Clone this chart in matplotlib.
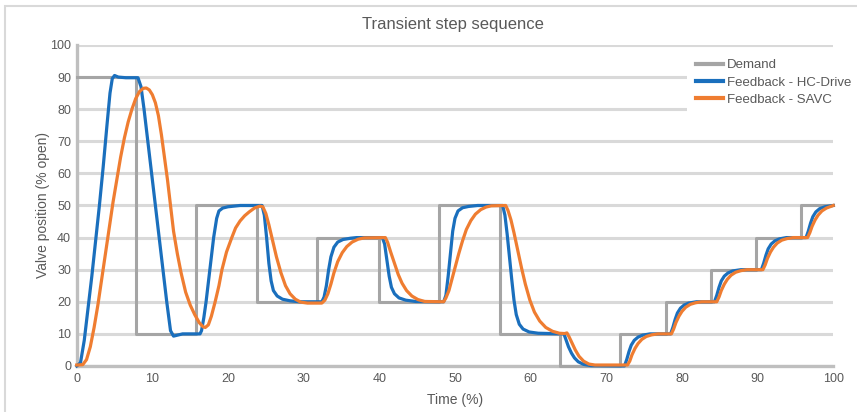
import numpy as np
import matplotlib
matplotlib.use("Agg")
import matplotlib.pyplot as plt
from matplotlib.patches import Rectangle

# ── DATA ──────────────────────────────────────────────────────────────────────
demand_t = [0, 7.8, 15.8, 23.8, 31.8, 39.9, 47.9, 55.9, 63.9, 71.8, 77.9, 83.8, 89.8, 95.8, 100]
demand_y = [90, 10, 50, 20, 40, 20, 50, 10, 0, 10, 20, 30, 40, 50, 50]

hc_drive = [
    # start-up to 90
    (0, 0), (0.5, 1), (1.0, 8), (1.5, 18), (2.0, 28), (2.5, 39), (3.0, 50), (3.5, 62),
    (4.0, 75), (4.4, 85), (4.7, 89.5), (5.0, 90.5), (5.5, 90), (6.5, 89.8), (8.1, 89.8),
    # 90 -> 10
    (8.5, 87), (8.9, 80), (9.4, 70), (9.9, 60), (10.4, 50), (10.9, 40), (11.4, 30),
    (11.9, 20), (12.4, 11), (12.8, 9.3), (13.3, 9.6), (14.0, 10), (16.3, 10),
    # 10 -> 50
    (16.5, 11), (16.8, 15), (17.1, 20), (17.6, 30), (18.1, 40), (18.5, 46), (18.8, 48.3),
    (19.3, 49.2), (20.0, 49.6), (21.6, 50), (24.5, 50),
    # 50 -> 20
    (24.8, 47), (25.1, 40), (25.4, 32), (25.7, 26.5), (26.0, 23.5), (26.5, 21.8),
    (27.2, 20.8), (28.2, 20.3), (29.5, 20), (32.4, 20),
    # 20 -> 40
    (32.7, 21.5), (33.0, 25), (33.3, 30), (33.6, 34), (34.0, 37), (34.5, 38.6),
    (35.2, 39.4), (36.2, 39.8), (37.0, 40), (40.4, 40),
    # 40 -> 20
    (40.7, 38), (41.0, 33), (41.3, 28), (41.6, 24.5), (42.0, 22.5), (42.6, 21.2),
    (43.5, 20.5), (44.8, 20.1), (48.5, 20),
    # 20 -> 50
    (48.8, 22), (49.1, 28), (49.4, 35), (49.7, 42), (50.0, 46), (50.4, 48.3), (51.0, 49.3),
    (51.8, 49.7), (53.0, 50), (56.3, 50),
    # 50 -> 10
    (56.6, 47), (56.9, 41), (57.2, 34), (57.5, 27), (57.8, 20.5), (58.1, 16), (58.5, 13),
    (59.0, 11.5), (59.8, 10.6), (61.0, 10.2), (64.4, 10),
    # 10 -> 0
    (64.7, 8), (65.0, 6), (65.4, 4), (65.8, 2.5), (66.3, 1.3), (67.0, 0.5), (68.0, 0.1),
    (72.4, 0),
    # 0 -> 10
    (72.7, 2), (73.0, 4.5), (73.3, 6.5), (73.7, 8), (74.2, 9), (74.8, 9.6), (75.8, 10),
    (78.5, 10),
    # 10 -> 20
    (78.8, 12), (79.1, 14.5), (79.4, 16.5), (79.8, 18), (80.3, 19), (80.9, 19.6),
    (81.9, 20), (84.3, 20),
    # 20 -> 30
    (84.6, 22), (84.9, 24.5), (85.2, 26.5), (85.6, 28), (86.1, 29), (86.7, 29.6),
    (87.8, 30), (90.5, 30),
    # 30 -> 40
    (90.8, 32), (91.1, 34.5), (91.4, 36.5), (91.8, 38), (92.3, 39), (92.9, 39.6),
    (93.8, 40), (96.4, 40),
    # 40 -> 50
    (96.7, 42), (97.0, 44.5), (97.3, 46.5), (97.7, 48), (98.2, 49), (98.9, 49.6),
    (100, 50),
]

savc = [
    # start-up to peak
    (0, 0.3), (0.8, 0.4), (1.3, 2), (1.8, 6), (2.3, 12), (2.8, 19), (3.3, 27), (3.8, 35),
    (4.3, 43), (4.8, 51), (5.3, 58), (5.8, 65), (6.3, 71), (6.8, 76), (7.3, 80),
    (7.8, 83.3), (8.3, 85.5), (8.8, 86.5), (9.2, 86.6), (9.6, 86), (10.0, 84.5),
    # peak -> 12
    (10.4, 82), (10.8, 78), (11.2, 72), (11.6, 65), (12.0, 58), (12.4, 50), (12.8, 42),
    (13.3, 35), (13.8, 29), (14.4, 23), (15.0, 19), (15.6, 16), (16.2, 13.5),
    (16.7, 12.2), (17.0, 12),
    # 12 -> 50
    (17.4, 12.8), (17.8, 15.5), (18.3, 20), (18.8, 25), (19.2, 30), (19.8, 35.5),
    (20.5, 40), (21.0, 43), (21.6, 45.2), (22.2, 46.8), (22.8, 48), (23.5, 49.2),
    (24.2, 49.8), (24.6, 49.6),
    # 50 -> 20
    (25.0, 47.5), (25.4, 44), (25.9, 39), (26.4, 34), (27.0, 29), (27.6, 25), (28.2, 22.5),
    (28.9, 20.8), (29.6, 19.9), (30.5, 19.6), (32.4, 19.6),
    # 20 -> 40
    (32.8, 20.5), (33.2, 22.5), (33.6, 25.5), (34.0, 29), (34.5, 32.5), (35.1, 35.3),
    (35.7, 37.2), (36.4, 38.6), (37.2, 39.5), (38.0, 39.9), (40.8, 40),
    # 40 -> 20
    (41.1, 38.5), (41.5, 35.5), (42.0, 32), (42.5, 28.5), (43.0, 25.8), (43.6, 23.5),
    (44.3, 21.8), (45.1, 20.7), (46.0, 20.1), (48.5, 20),
    # 20 -> 50
    (48.8, 21.2), (49.2, 23.5), (49.6, 27), (50.0, 30.5), (50.5, 35), (51.0, 39),
    (51.5, 42.5), (52.1, 45.3), (52.7, 47.3), (53.4, 48.7), (54.1, 49.5), (54.8, 49.9),
    (56.7, 50),
    # 50 -> 10
    (57.0, 48.5), (57.4, 45.5), (57.8, 41.5), (58.3, 36), (58.8, 30.5), (59.3, 25.5),
    (59.9, 20.5), (60.5, 16.8), (61.2, 14), (62.0, 12), (62.9, 10.8), (63.8, 10.2),
    (64.5, 10.1), (64.8, 10.3),
    # 10 -> 0
    (65.1, 9), (65.5, 7), (65.9, 5), (66.4, 3), (67.0, 1.5), (67.7, 0.6), (68.5, 0.3),
    (72.8, 0.3),
    # 0 -> 10
    (73.1, 1.5), (73.4, 3.5), (73.8, 5.5), (74.2, 7), (74.7, 8.3), (75.3, 9.2),
    (76.0, 9.7), (76.8, 10), (78.6, 10),
    # 10 -> 20
    (78.9, 11.5), (79.2, 13.5), (79.6, 15.5), (80.0, 17), (80.5, 18.3), (81.1, 19.2),
    (81.8, 19.7), (82.6, 20), (84.6, 20),
    # 20 -> 30
    (84.9, 21.5), (85.2, 23.5), (85.6, 25.5), (86.0, 27), (86.5, 28.3), (87.1, 29.2),
    (87.8, 29.7), (88.6, 30), (90.7, 30),
    # 30 -> 40
    (91.0, 31.5), (91.3, 33.5), (91.7, 35.5), (92.1, 37), (92.6, 38.3), (93.2, 39.2),
    (93.9, 39.7), (94.7, 40), (96.6, 40),
    # 40 -> 50
    (96.9, 41.5), (97.2, 43.5), (97.6, 45.5), (98.0, 47), (98.5, 48.3), (99.1, 49.2),
    (100, 50),
]

yticks = list(range(0, 101, 10))
xticks = list(range(0, 101, 10))

# ── STYLE ─────────────────────────────────────────────────────────────────────
plt.rcParams["font.family"] = ["Liberation Sans", "DejaVu Sans"]
TXT  = "#595959"
GRID = "#d9d9d9"

fig = plt.figure(figsize=(8.57, 4.12), dpi=100)
ax = fig.add_axes([0.0895, 0.1117, 0.8828, 0.7791])

hc = np.array(hc_drive)
sv = np.array(savc)

ax.plot(demand_t, demand_y, drawstyle="steps-post", color="#a5a5a5", lw=2.2,
        label="Demand", clip_on=False, zorder=3)
ax.plot(hc[:, 0], hc[:, 1], color="#1a6fbd", lw=2.3,
        label="Feedback - HC-Drive", clip_on=False, zorder=4)
ax.plot(sv[:, 0], sv[:, 1], color="#ef7d31", lw=2.3,
        label="Feedback - SAVC", clip_on=False, zorder=5)

ax.set_xlim(0, 100)
ax.set_ylim(0, 100)
ax.set_xticks(xticks)
ax.set_yticks(yticks)
ax.yaxis.grid(True, color=GRID, lw=2.2)
ax.set_axisbelow(True)
ax.tick_params(length=0, labelsize=9, colors=TXT)
ax.tick_params(axis="x", pad=5)
ax.tick_params(axis="y", pad=4)
for s in ["top", "right"]:
    ax.spines[s].set_visible(False)
for s in ["left", "bottom"]:
    ax.spines[s].set_color("#bfbfbf")
    ax.spines[s].set_linewidth(2.4)

ax.set_xlabel("Time (%)", fontsize=10, color=TXT, labelpad=6)
ax.set_ylabel("Valve position (% open)", fontsize=10, color=TXT, labelpad=0)

fig.text(453 / 857, 1 - 25 / 412, "Transient step sequence", ha="center", va="center",
         fontsize=12, color=TXT)

leg = ax.legend(loc="upper left", bbox_to_anchor=(687 / 857, 1 - 50 / 412),
                bbox_transform=fig.transFigure, frameon=True, fontsize=9.5,
                handlelength=2.0, handletextpad=0.3, labelspacing=0.38,
                borderpad=0.7, borderaxespad=0)
leg.get_frame().set_facecolor("white")
leg.get_frame().set_edgecolor("none")
leg.get_frame().set_alpha(1)
for line in leg.get_lines():
    line.set_linewidth(3)
for t in leg.get_texts():
    t.set_color(TXT)

# light frame around the chart area
fig.patches.append(Rectangle((5 / 857, -0.1), 2, 1.1 - 6 / 412, transform=fig.transFigure,
                             fill=False, edgecolor=GRID, lw=1.5))

fig.savefig("out.png", dpi=100)
